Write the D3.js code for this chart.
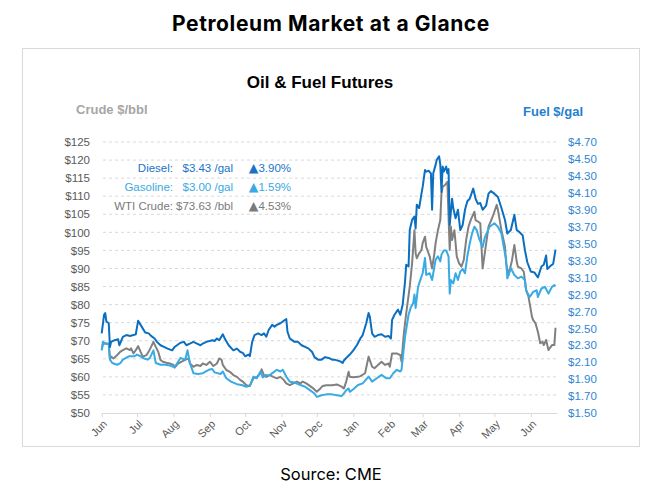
<!DOCTYPE html>
<html><head><meta charset="utf-8">
<script src="https://cdn.jsdelivr.net/npm/d3@7"></script>
<style>body{margin:0;background:#fff}svg{display:block}</style>
</head><body>
<svg id="c" width="664" height="495"></svg>
<script>
// ---------- DATA ----------
const dieselDates = ["2025-06-01","2025-06-03","2025-06-04","2025-06-05","2025-06-07","2025-06-08","2025-06-09","2025-06-12","2025-06-15","2025-06-16","2025-06-19","2025-06-22","2025-06-25","2025-06-28","2025-06-30","2025-07-02","2025-07-05","2025-07-08","2025-07-11","2025-07-13","2025-07-16","2025-07-18","2025-07-21","2025-07-24","2025-07-27","2025-07-31","2025-08-02","2025-08-07","2025-08-10","2025-08-12","2025-08-15","2025-08-18","2025-08-21","2025-08-24","2025-08-26","2025-08-29","2025-09-03","2025-09-05","2025-09-07","2025-09-09","2025-09-12","2025-09-14","2025-09-17","2025-09-21","2025-09-24","2025-09-27","2025-09-29","2025-10-01","2025-10-04","2025-10-05","2025-10-07","2025-10-09","2025-10-12","2025-10-15","2025-10-17","2025-10-19","2025-10-21","2025-10-24","2025-10-26","2025-10-28","2025-10-31","2025-11-02","2025-11-05","2025-11-06","2025-11-08","2025-11-10","2025-11-12","2025-11-15","2025-11-18","2025-11-21","2025-11-24","2025-11-27","2025-11-29","2025-12-02","2025-12-05","2025-12-08","2025-12-11","2025-12-14","2025-12-16","2025-12-21","2025-12-23","2025-12-24","2025-12-26","2025-12-29","2026-01-01","2026-01-04","2026-01-07","2026-01-09","2026-01-12","2026-01-14","2026-01-15","2026-01-17","2026-01-19","2026-01-22","2026-01-25","2026-01-28","2026-01-31","2026-02-02","2026-02-03","2026-02-05","2026-02-08","2026-02-10","2026-02-12","2026-02-14","2026-02-15","2026-02-17","2026-02-18","2026-02-20","2026-02-22","2026-02-23","2026-02-24","2026-02-26","2026-02-28","2026-03-01","2026-03-03","2026-03-04","2026-03-06","2026-03-08","2026-03-09","2026-03-10","2026-03-12","2026-03-13","2026-03-15","2026-03-16","2026-03-17","2026-03-18","2026-03-19","2026-03-21","2026-03-22","2026-03-23","2026-03-24","2026-03-26","2026-03-27","2026-03-29","2026-03-31","2026-04-02","2026-04-04","2026-04-06","2026-04-08","2026-04-10","2026-04-13","2026-04-15","2026-04-17","2026-04-19","2026-04-21","2026-04-24","2026-04-26","2026-04-28","2026-05-01","2026-05-04","2026-05-07","2026-05-10","2026-05-12","2026-05-15","2026-05-18","2026-05-20","2026-05-22","2026-05-25","2026-05-27","2026-05-29","2026-06-01","2026-06-04","2026-06-07","2026-06-10","2026-06-12","2026-06-14","2026-06-15","2026-06-18","2026-06-20","2026-06-22"];
const dieselValues = [2.44,2.66,2.68,2.58,2.56,2.28,2.34,2.36,2.37,2.30,2.40,2.42,2.41,2.42,2.43,2.59,2.52,2.45,2.44,2.41,2.38,2.34,2.30,2.28,2.26,2.24,2.28,2.33,2.34,2.30,2.32,2.34,2.32,2.30,2.32,2.34,2.36,2.35,2.38,2.36,2.43,2.37,2.30,2.24,2.26,2.22,2.21,2.17,2.19,2.17,2.34,2.42,2.44,2.42,2.44,2.40,2.48,2.54,2.52,2.54,2.56,2.58,2.61,2.46,2.38,2.36,2.34,2.34,2.30,2.28,2.26,2.22,2.16,2.13,2.13,2.16,2.15,2.13,2.13,2.11,2.09,2.12,2.15,2.19,2.24,2.30,2.38,2.42,2.56,2.68,2.64,2.44,2.40,2.42,2.43,2.40,2.41,2.38,2.60,2.66,2.72,2.66,2.78,3.05,3.25,3.23,3.66,3.78,3.82,3.68,3.96,3.92,4.09,4.17,4.37,4.35,4.36,4.33,3.90,4.33,4.43,4.49,4.53,4.43,4.11,4.41,4.35,4.41,4.33,4.38,3.72,4.03,3.92,3.80,3.90,3.66,3.72,3.90,4.00,4.03,4.15,4.03,3.97,3.98,3.90,3.95,4.09,4.12,4.09,4.05,3.92,3.78,3.62,3.66,3.84,3.66,3.64,3.60,3.42,3.28,3.17,3.16,3.10,3.23,3.25,3.36,3.20,3.24,3.26,3.43];

const gasolineDates = ["2025-06-01","2025-06-02","2025-06-04","2025-06-07","2025-06-08","2025-06-10","2025-06-14","2025-06-17","2025-06-19","2025-06-24","2025-06-27","2025-06-29","2025-07-01","2025-07-04","2025-07-06","2025-07-10","2025-07-12","2025-07-15","2025-07-17","2025-07-21","2025-07-25","2025-07-29","2025-08-02","2025-08-07","2025-08-11","2025-08-13","2025-08-15","2025-08-18","2025-08-22","2025-08-26","2025-08-31","2025-09-03","2025-09-05","2025-09-10","2025-09-12","2025-09-15","2025-09-19","2025-09-24","2025-09-28","2025-10-02","2025-10-05","2025-10-08","2025-10-11","2025-10-14","2025-10-16","2025-10-19","2025-10-21","2025-10-25","2025-10-28","2025-10-31","2025-11-02","2025-11-05","2025-11-08","2025-11-12","2025-11-17","2025-11-21","2025-11-25","2025-11-29","2025-12-01","2025-12-05","2025-12-09","2025-12-14","2025-12-18","2025-12-22","2025-12-24","2025-12-26","2025-12-28","2025-12-29","2026-01-01","2026-01-05","2026-01-09","2026-01-14","2026-01-17","2026-01-21","2026-01-25","2026-01-29","2026-02-01","2026-02-04","2026-02-07","2026-02-10","2026-02-11","2026-02-14","2026-02-17","2026-02-19","2026-02-21","2026-02-22","2026-02-23","2026-02-25","2026-02-26","2026-02-28","2026-03-01","2026-03-03","2026-03-04","2026-03-07","2026-03-09","2026-03-11","2026-03-12","2026-03-14","2026-03-16","2026-03-17","2026-03-19","2026-03-21","2026-03-23","2026-03-24","2026-03-25","2026-03-27","2026-03-29","2026-03-31","2026-04-02","2026-04-04","2026-04-06","2026-04-08","2026-04-10","2026-04-12","2026-04-14","2026-04-16","2026-04-18","2026-04-21","2026-04-23","2026-04-27","2026-05-01","2026-05-04","2026-05-07","2026-05-09","2026-05-11","2026-05-12","2026-05-15","2026-05-18","2026-05-21","2026-05-24","2026-05-27","2026-05-28","2026-05-31","2026-06-03","2026-06-06","2026-06-07","2026-06-10","2026-06-13","2026-06-16","2026-06-19","2026-06-21","2026-06-22"];
const gasolineValues = [2.24,2.34,2.32,2.32,2.13,2.09,2.07,2.09,2.13,2.17,2.17,2.17,2.19,2.17,2.15,2.13,2.15,2.24,2.09,2.07,2.07,2.06,2.04,2.15,2.13,2.24,2.09,1.97,1.96,1.97,2.01,2.02,1.98,1.96,1.99,1.91,1.87,1.84,1.83,1.81,1.82,1.93,1.91,1.99,1.92,1.95,1.94,1.98,2.01,1.99,2.01,1.93,1.87,1.86,1.83,1.81,1.77,1.73,1.69,1.71,1.72,1.72,1.71,1.70,1.73,1.77,1.79,1.75,1.78,1.83,1.85,1.93,1.87,1.91,1.95,1.91,1.91,1.97,2.01,1.99,2.01,2.40,2.66,2.75,2.80,2.90,2.74,2.98,3.03,3.11,3.15,3.33,3.13,3.15,3.07,3.23,3.31,3.35,3.29,3.37,3.42,3.42,3.35,2.91,3.07,3.03,3.15,3.07,3.17,3.20,3.15,3.35,3.50,3.62,3.70,3.66,3.56,3.46,3.58,3.70,3.74,3.70,3.62,3.46,3.31,3.09,3.21,3.13,3.09,3.11,3.07,2.95,2.87,2.93,2.95,2.87,2.97,2.99,2.91,2.99,3.01,3.00];

const crudeDates = ["2025-06-01","2025-06-02","2025-06-04","2025-06-07","2025-06-08","2025-06-09","2025-06-11","2025-06-14","2025-06-17","2025-06-19","2025-06-22","2025-06-25","2025-06-26","2025-06-28","2025-06-30","2025-07-02","2025-07-04","2025-07-06","2025-07-09","2025-07-11","2025-07-13","2025-07-15","2025-07-17","2025-07-19","2025-07-21","2025-07-23","2025-07-26","2025-07-29","2025-08-01","2025-08-02","2025-08-05","2025-08-08","2025-08-11","2025-08-14","2025-08-15","2025-08-18","2025-08-21","2025-08-24","2025-08-26","2025-08-29","2025-09-01","2025-09-04","2025-09-07","2025-09-09","2025-09-11","2025-09-12","2025-09-15","2025-09-18","2025-09-21","2025-09-24","2025-09-27","2025-09-29","2025-10-02","2025-10-05","2025-10-08","2025-10-11","2025-10-14","2025-10-15","2025-10-17","2025-10-19","2025-10-22","2025-10-25","2025-10-28","2025-10-31","2025-11-03","2025-11-05","2025-11-08","2025-11-11","2025-11-14","2025-11-17","2025-11-19","2025-11-22","2025-11-25","2025-11-28","2025-12-01","2025-12-04","2025-12-06","2025-12-09","2025-12-14","2025-12-18","2025-12-22","2025-12-24","2025-12-26","2025-12-28","2025-12-29","2026-01-01","2026-01-05","2026-01-07","2026-01-11","2026-01-14","2026-01-17","2026-01-19","2026-01-22","2026-01-25","2026-01-28","2026-01-31","2026-02-01","2026-02-03","2026-02-07","2026-02-10","2026-02-11","2026-02-13","2026-02-15","2026-02-18","2026-02-20","2026-02-22","2026-02-23","2026-02-24","2026-02-26","2026-02-28","2026-03-01","2026-03-03","2026-03-04","2026-03-07","2026-03-09","2026-03-11","2026-03-12","2026-03-14","2026-03-16","2026-03-17","2026-03-18","2026-03-20","2026-03-22","2026-03-24","2026-03-25","2026-03-26","2026-03-28","2026-03-30","2026-04-01","2026-04-03","2026-04-05","2026-04-07","2026-04-09","2026-04-11","2026-04-14","2026-04-15","2026-04-17","2026-04-19","2026-04-21","2026-04-23","2026-04-26","2026-04-29","2026-05-01","2026-05-03","2026-05-04","2026-05-07","2026-05-10","2026-05-11","2026-05-13","2026-05-16","2026-05-18","2026-05-20","2026-05-21","2026-05-24","2026-05-26","2026-05-28","2026-05-30","2026-06-02","2026-06-03","2026-06-05","2026-06-07","2026-06-09","2026-06-11","2026-06-12","2026-06-14","2026-06-16","2026-06-17","2026-06-19","2026-06-21","2026-06-22"];
const crudeValues = [67.5,69.0,69.3,69.0,65.0,65.6,65.1,66.0,67.0,67.4,67.9,67.4,67.9,66.5,67.4,68.5,67.0,65.6,66.0,67.0,68.3,69.7,68.3,67.0,64.7,64.2,63.9,63.7,63.3,62.6,63.7,64.2,64.7,65.1,63.7,62.8,63.3,63.0,63.7,63.3,64.2,63.0,63.7,65.1,64.7,63.3,61.9,61.4,60.5,60.0,59.1,58.7,57.7,57.5,59.6,60.0,61.0,62.1,60.5,60.0,60.5,60.0,59.6,60.0,59.1,58.2,57.7,58.2,58.7,58.2,58.7,58.2,57.5,56.8,55.9,56.8,57.5,57.7,57.7,57.9,57.3,56.8,58.7,61.4,60.0,59.9,60.0,60.2,61.0,65.6,62.8,62.4,63.3,64.2,63.3,63.7,62.8,66.5,66.5,66.0,64.2,72.0,77.6,85.0,91.4,100.6,94.2,92.8,94.2,95.1,97.0,98.8,96.0,93.3,90.0,94.2,97.0,100.6,103.4,110.8,112.6,113.1,114.0,95.1,101.6,97.9,100.6,93.3,91.4,90.5,92.4,97.9,101.6,103.5,105.7,103.4,103.0,102.5,90.0,94.6,101.6,103.9,105.7,107.6,106.2,100.6,96.0,91.4,88.2,92.3,96.5,91.9,90.5,90.0,89.1,84.0,82.2,76.6,75.7,74.8,72.5,69.3,69.7,68.8,70.2,67.4,67.9,68.8,68.8,73.6];

const crudeTicks = [50,55,60,65,70,75,80,85,90,95,100,105,110,115,120,125];
const fuelTicks = [1.5,1.7,1.9,2.1,2.3,2.5,2.7,2.9,3.1,3.3,3.5,3.7,3.9,4.1,4.3,4.5,4.7];
const legendLabels = ["Diesel:","Gasoline:","WTI Crude:"];
const legendPrices = ["$3.43 /gal","$3.00 /gal","$73.63 /bbl"];
const legendChanges = ["3.90%","1.59%","4.53%"];

// ---------- DRAW ----------
const svg = d3.select("#c");
const parse = d3.timeParse("%Y-%m-%d");
const FONT = "'Liberation Sans', Arial, sans-serif";
const TITLEFONT = "Inter, Roboto, sans-serif";
const cDiesel = "#0b6fc1", cGas = "#38aae4", cCrude = "#808080";
const cDieselTxt = "#1a73c7", cGasTxt = "#3aa9e3", cCrudeTxt = "#7a7a7a";

svg.append("rect").attr("width",664).attr("height",495).attr("fill","#fff");
svg.append("text").attr("x",331).attr("y",31).attr("text-anchor","middle")
  .attr("font-family",TITLEFONT).attr("font-weight",700).attr("letter-spacing",0.6)
  .attr("font-size",21).attr("fill","#000").text("Petroleum Market at a Glance");
svg.append("rect").attr("x",22.5).attr("y",48.5).attr("width",617).attr("height",398)
  .attr("fill","#fff").attr("stroke","#d9d9d9").attr("stroke-width",1);
svg.append("text").attr("x",331).attr("y",480).attr("text-anchor","middle")
  .attr("font-family",TITLEFONT).attr("font-size",16.5)
  .attr("fill","#000").text("Source: CME");

svg.append("text").attr("x",320).attr("y",88).attr("text-anchor","middle")
  .attr("font-family",FONT).attr("font-weight",700).attr("font-size",17)
  .attr("fill","#000").text("Oil & Fuel Futures");
svg.append("text").attr("x",76).attr("y",114).attr("font-family",FONT).attr("font-weight",700)
  .attr("font-size",13).attr("fill","#a6a6a6").text("Crude $/bbl");
svg.append("text").attr("x",583).attr("y",116).attr("text-anchor","end").attr("font-family",FONT).attr("font-weight",700)
  .attr("font-size",13).attr("fill","#1f7fd0").text("Fuel $/gal");

const x = d3.scaleTime().domain([parse("2025-06-01"), parse("2026-06-23")]).range([101.7, 556.7]);
const yL = d3.scaleLinear().domain([50,125]).range([413,142]);
const yR = d3.scaleLinear().domain([1.5,4.7]).range([413,142]);

// gridlines
svg.append("g").selectAll("line").data(crudeTicks.slice(1)).join("line")
  .attr("x1",103).attr("x2",556.7).attr("y1",d=>yL(d)).attr("y2",d=>yL(d))
  .attr("stroke","#d9d9d9").attr("stroke-width",1).attr("stroke-dasharray","3,3");

// left axis
const gL = svg.append("g").attr("transform","translate(101,0)")
  .call(d3.axisLeft(yL).tickValues(crudeTicks).tickFormat(d=>"$"+d).tickSize(0).tickPadding(11));
gL.select(".domain").remove();
gL.selectAll("text").attr("font-family",FONT).attr("font-size",11.5).attr("fill","#595959");

// right axis
const gR = svg.append("g").attr("transform","translate(567,0)")
  .call(d3.axisRight(yR).tickValues(fuelTicks).tickFormat(d=>"$"+d.toFixed(2)).tickSize(0).tickPadding(1));
gR.select(".domain").remove();
gR.selectAll("text").attr("font-family",FONT).attr("font-size",11.5).attr("fill","#2e86d3");

// bottom axis
const gB = svg.append("g").attr("transform","translate(0,413)")
  .call(d3.axisBottom(x).ticks(d3.timeMonth.every(1)).tickFormat(d3.timeFormat("%b")).tickSize(4).tickSizeOuter(0));
gB.select(".domain").attr("stroke","#d9d9d9");
gB.selectAll(".tick line").attr("stroke","#d9d9d9");
gB.selectAll("text").attr("font-family",FONT).attr("font-size",11).attr("fill","#595959")
  .attr("text-anchor","end").attr("x",0).attr("y",0).attr("dy","0.35em")
  .attr("transform","translate(3,9) rotate(-45)");

// lines
function series(dates, vals){ return dates.map((d,i)=>({date:parse(d), v:vals[i]})); }
const lineL = d3.line().x(d=>x(d.date)).y(d=>yL(d.v));
const lineR = d3.line().x(d=>x(d.date)).y(d=>yR(d.v));
svg.append("path").datum(series(crudeDates,crudeValues)).attr("d",lineL)
  .attr("fill","none").attr("stroke",cCrude).attr("stroke-width",2).attr("stroke-linejoin","round");
svg.append("path").datum(series(gasolineDates,gasolineValues)).attr("d",lineR)
  .attr("fill","none").attr("stroke",cGas).attr("stroke-width",2).attr("stroke-linejoin","round");
svg.append("path").datum(series(dieselDates,dieselValues)).attr("d",lineR)
  .attr("fill","none").attr("stroke",cDiesel).attr("stroke-width",2).attr("stroke-linejoin","round");

// legend
const legColors = [cDieselTxt, cGasTxt, cCrudeTxt];
const legY = [172,191,210];
const gLeg = svg.append("g").attr("font-family",FONT).attr("font-size",11.5);
legendLabels.forEach((t,i)=>{
  gLeg.append("text").attr("x",173).attr("y",legY[i]).attr("text-anchor","end").attr("fill",legColors[i]).text(t);
  gLeg.append("text").attr("x",233).attr("y",legY[i]).attr("text-anchor","end").attr("fill",legColors[i]).text(legendPrices[i]);
  const tc = gLeg.append("text").attr("x",291).attr("y",legY[i]).attr("text-anchor","end").attr("fill",legColors[i]);
  tc.append("tspan").attr("font-family","'DejaVu Sans', sans-serif").attr("font-size",12.5).text("▲");
  tc.append("tspan").text(legendChanges[i]);
});
</script>
</body></html>
